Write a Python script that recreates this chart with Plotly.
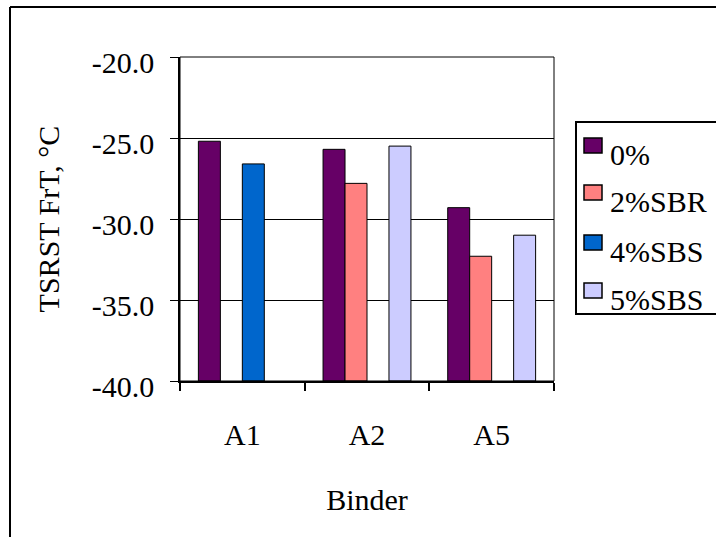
import plotly.graph_objects as go

# ---- data ----
categories = ["A1", "A2", "A5"]
series_names = ["0%", "2%SBR", "4%SBS", "5%SBS"]
frt_0 = [-25.2, -25.7, -29.3]
frt_2sbr = [None, -27.8, -32.3]
frt_4sbs = [-26.6, None, None]
frt_5sbs = [None, -25.5, -31.0]
series_colors = ["#660066", "#FF8080", "#0066CC", "#CCCCFF"]
y_ticks = [-40, -35, -30, -25, -20]
y_ticklabels = [f"{v:.1f}" for v in y_ticks]

Y_MIN, Y_MAX = -40, -20
W, H = 716, 537
ML, MR, MT, MB = 180, 162, 57, 156
PW, PH = W - ML - MR, H - MT - MB
FONT = "Liberation Serif, Times New Roman, Tinos, serif"


def px_x(px):
    return (px - ML) / PW


def px_y(py):
    return (H - MB - py) / PH


fig = go.Figure()
all_series = [frt_0, frt_2sbr, frt_4sbs, frt_5sbs]
for name, vals, col in zip(series_names, all_series, series_colors):
    fig.add_trace(go.Bar(
        name=name,
        x=categories,
        y=[None if v is None else v - Y_MIN for v in vals],
        base=Y_MIN,
        marker=dict(color=col, line=dict(color="black", width=1)),
        showlegend=False,
        customdata=vals,
        hovertemplate="%{x}: %{customdata}<extra>" + name + "</extra>",
    ))

shapes = [
    # plot area border
    dict(type="rect", xref="paper", yref="paper", x0=0, x1=1, y0=0, y1=1,
         line=dict(color="black", width=1), layer="above"),
    # outer chart frame (cropped at right and bottom)
    dict(type="line", xref="paper", yref="paper", x0=px_x(10), x1=px_x(10),
         y0=px_y(7), y1=px_y(560), line=dict(color="black", width=2)),
    dict(type="line", xref="paper", yref="paper", x0=px_x(10), x1=px_x(740),
         y0=px_y(7), y1=px_y(7), line=dict(color="black", width=2)),
    # legend box
    dict(type="rect", xref="paper", yref="paper", x0=px_x(576), x1=px_x(730),
         y0=px_y(314), y1=px_y(122), line=dict(color="black", width=2)),
]
annotations = []
sq_tops = [138, 185, 235, 283]
txt_centers = [154, 201, 251, 299]
for name, col, top, tc in zip(series_names, series_colors, sq_tops, txt_centers):
    shapes.append(dict(type="rect", xref="paper", yref="paper",
                       x0=px_x(584), x1=px_x(602), y0=px_y(top + 15), y1=px_y(top),
                       fillcolor=col, line=dict(color="black", width=1.5)))
    annotations.append(dict(xref="paper", yref="paper", x=px_x(608), y=px_y(tc),
                            xanchor="left", yanchor="middle", showarrow=False,
                            text=name, font=dict(family=FONT, size=30, color="black")))

fig.update_layout(
    width=W, height=H,
    margin=dict(l=ML, r=MR, t=MT, b=MB, autoexpand=False),
    paper_bgcolor="white", plot_bgcolor="white",
    font=dict(family=FONT, size=30, color="black"),
    barmode="group", bargap=0.295, bargroupgap=0,
    showlegend=False,
    shapes=shapes, annotations=annotations,
    xaxis=dict(
        type="category", categoryorder="array", categoryarray=categories,
        tickson="boundaries", ticks="outside", ticklen=8, tickwidth=2, tickcolor="black",
        showline=True, linewidth=2, linecolor="black", showgrid=False,
        ticklabelstandoff=26,
        tickfont=dict(family=FONT, size=30, color="black"),
        title=dict(text="Binder", standoff=39, font=dict(family=FONT, size=30, color="black")),
        automargin=False,
    ),
    yaxis=dict(
        range=[Y_MIN, Y_MAX], tickvals=y_ticks, ticktext=y_ticklabels,
        ticks="outside", ticklen=8, tickwidth=1, tickcolor="black",
        showline=True, linewidth=1.5, linecolor="black",
        showgrid=True, gridcolor="black", gridwidth=1, zeroline=False,
        ticklabelstandoff=10, ticklabelshift=5,
        tickfont=dict(family=FONT, size=30, color="black"),
        title=dict(text="TSRST FrT, °C", standoff=23, font=dict(family=FONT, size=30, color="black")),
        automargin=False,
    ),
)

fig.write_html("out.html")
